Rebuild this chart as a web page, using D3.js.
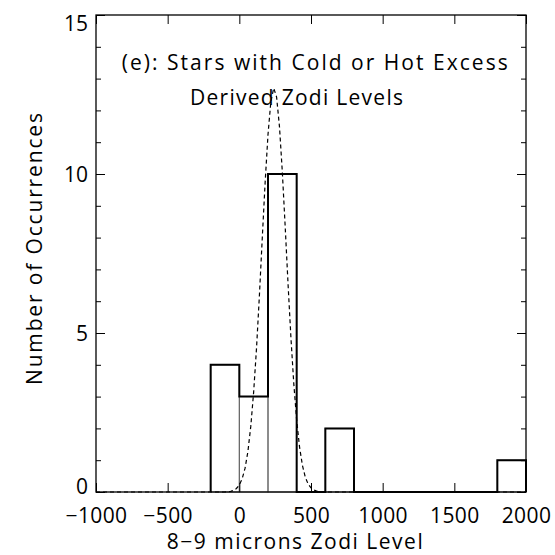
<!DOCTYPE html>
<html>
<head>
<meta charset="utf-8">
<script src="https://cdn.jsdelivr.net/npm/d3@7"></script>
<style>
  body { margin: 0; background: #fff; }
  text { font-family: 'Open Sans', 'DejaVu Sans', sans-serif; font-weight: 400; fill: #000; }
</style>
</head>
<body>
<div id="chart"></div>
<script>
// histogram bins (left edges, width 200) and counts
const binStarts = [-200, 0, 200, 400, 600, 800, 1000, 1200, 1400, 1600, 1800]
const binCounts = [4, 3, 10, 0, 2, 0, 0, 0, 0, 0, 1]
const binWidth = 200

// gaussian fit curve
const fitX = [-1000, -100, -80, -60, -40, -20, 0, 20, 40, 60, 80, 100, 120, 140, 160, 180, 200, 220, 240,
  260, 280, 300, 320, 340, 360, 380, 400, 420, 440, 460, 480, 500, 520, 540, 560, 600, 2000]
const fitY = [0, 0, 0.01, 0.02, 0.05, 0.11, 0.22, 0.42, 0.75, 1.28, 2.07, 3.15, 4.53, 6.18, 7.98, 9.73, 11.24, 12.28, 12.7,
  12.42, 11.49, 10.06, 8.34, 6.53, 4.85, 3.4, 2.26, 1.42, 0.84, 0.47, 0.25, 0.13, 0.06, 0.03, 0.01, 0, 0]

const xTicks = [-1000, -500, 0, 500, 1000, 1500, 2000]
const yTicks = [0, 5, 10, 15]
const yMinor = d3.range(0, 16)

const width = 555
const height = 555
const margin = { left: 96, right: 29, top: 15, bottom: 63 }
const innerWidth = width - margin.left - margin.right
const innerHeight = height - margin.top - margin.bottom
const fontFam = "'Open Sans', 'DejaVu Sans', sans-serif"
const fs = '21px'

const svg = d3.select('#chart')
  .append('svg')
  .attr('width', width)
  .attr('height', height)

const g = svg.append('g')
  .attr('transform', `translate(${margin.left},${margin.top})`)

const x = d3.scaleLinear().domain([-1000, 2000]).range([0, innerWidth])
const y = d3.scaleLinear().domain([0, 15]).range([innerHeight, 0])

// thin outline of each bar (inner edges show through)
g.selectAll('.bin')
  .data(binStarts.map((s, i) => ({ s, c: binCounts[i] })).filter(d => d.c > 0))
  .enter()
  .append('rect')
  .attr('class', 'bin')
  .attr('x', d => x(d.s))
  .attr('y', d => y(d.c))
  .attr('width', d => x(d.s + binWidth) - x(d.s))
  .attr('height', d => y(0) - y(d.c))
  .attr('fill', 'none')
  .attr('stroke', '#666')
  .attr('stroke-width', 1)

// thick step outline
const stepPts = [{ x: binStarts[0], y: 0 }]
binStarts.forEach((s, i) => stepPts.push({ x: s, y: binCounts[i] }))
const lastEdge = binStarts[binStarts.length - 1] + binWidth
stepPts.push({ x: lastEdge, y: binCounts[binCounts.length - 1] })
stepPts.push({ x: lastEdge, y: 0 })

g.append('path')
  .datum(stepPts)
  .attr('fill', 'none')
  .attr('stroke', '#000')
  .attr('stroke-width', 2)
  .attr('d', d3.line().x(d => x(d.x)).y(d => y(d.y)).curve(d3.curveStepAfter))

// dashed fit
g.append('path')
  .datum(fitX.map((v, i) => [v, fitY[i]]))
  .attr('fill', 'none')
  .attr('stroke', '#000')
  .attr('stroke-width', 1.2)
  .attr('stroke-dasharray', '4,3')
  .attr('d', d3.line().x(d => x(d[0])).y(d => y(d[1])))

// axes
const xAxisB = g.append('g')
  .attr('transform', `translate(0,${innerHeight})`)
  .call(d3.axisBottom(x).tickValues(xTicks).tickSize(-9).tickFormat(d3.format('d')))
xAxisB.selectAll('text')
  .attr('y', 31)
  .attr('dy', 0)
  .style('font-size', fs)
  .style('font-family', fontFam)
  .attr('letter-spacing', 0.4)

g.append('g')
  .call(d3.axisTop(x).tickValues(xTicks).tickSize(-9).tickFormat(''))

g.append('g')
  .call(d3.axisLeft(y).tickValues(yMinor).tickSize(-5).tickFormat(''))
g.append('g')
  .attr('transform', `translate(${innerWidth},0)`)
  .call(d3.axisRight(y).tickValues(yMinor).tickSize(-5).tickFormat(''))
g.append('g')
  .attr('transform', `translate(${innerWidth},0)`)
  .call(d3.axisRight(y).tickValues(yTicks).tickSize(-9).tickFormat(''))

const yAxisL = g.append('g')
  .call(d3.axisLeft(y).tickValues(yTicks).tickSize(-9).tickFormat(d3.format('d')))
yAxisL.selectAll('text')
  .attr('x', -8)
  .attr('dy', '0.36em')
  .attr('y', d => {
    // labels at the ends are pushed inside the frame
    const py = y(d)
    if (py < 8) return 8 - py
    if (py > innerHeight - 6.5) return -6.5
    return 0
  })
  .style('font-size', fs)
  .style('font-family', fontFam)

g.selectAll('.domain').remove()
g.selectAll('.tick line').attr('stroke', '#000').attr('stroke-width', 1)

// frame
g.append('rect')
  .attr('width', innerWidth)
  .attr('height', innerHeight)
  .attr('fill', 'none')
  .attr('stroke', '#000')
  .attr('stroke-width', 1.3)

// labels
svg.append('text')
  .attr('x', 121.7)
  .attr('y', 69.5)
  .attr('textLength', 386)
  .attr('lengthAdjust', 'spacing')
  .style('font-size', fs)
  .text('(e): Stars with Cold or Hot Excess')

svg.append('text')
  .attr('x', 190)
  .attr('y', 105)
  .attr('textLength', 213)
  .attr('lengthAdjust', 'spacing')
  .style('font-size', fs)
  .text('Derived Zodi Levels')

svg.append('text')
  .attr('x', 166.7)
  .attr('y', 549)
  .attr('textLength', 256)
  .attr('lengthAdjust', 'spacing')
  .style('font-size', fs)
  .text('8\u22129 microns Zodi Level')

svg.append('text')
  .attr('transform', 'translate(42,385) rotate(-90)')
  .attr('textLength', 272)
  .attr('lengthAdjust', 'spacing')
  .style('font-size', fs)
  .text('Number of Occurrences')
</script>
</body>
</html>
